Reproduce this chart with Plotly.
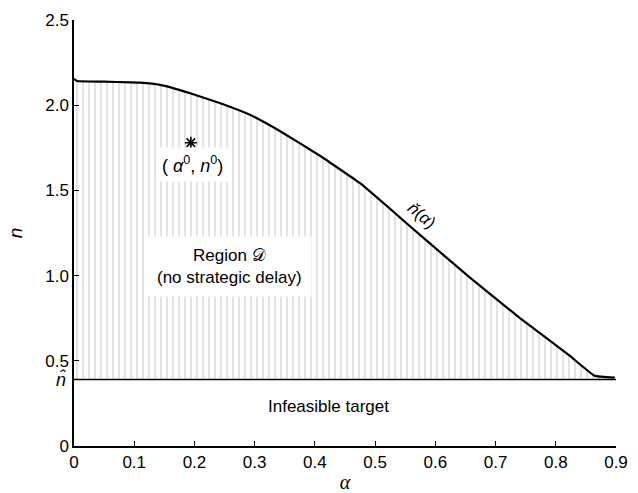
import plotly.graph_objects as go

# Boundary curve n-check(alpha)
alpha = [0.0, 0.005, 0.05, 0.094, 0.110, 0.143, 0.193, 0.243, 0.293, 0.343, 0.409,
         0.475, 0.540, 0.574, 0.657, 0.740, 0.823, 0.864, 0.898]
n_check = [2.155, 2.142, 2.138, 2.134, 2.132, 2.119, 2.070, 2.011, 1.942, 1.846, 1.702,
           1.542, 1.345, 1.240, 0.990, 0.752, 0.530, 0.413, 0.401]
n_hat = 0.39
x_range = [0.0, 0.9]
star_point = (0.194, 1.78)

x_ticks = [0, 0.1, 0.2, 0.3, 0.4, 0.5, 0.6, 0.7, 0.8, 0.9]
x_labels = ["0", "0.1", "0.2", "0.3", "0.4", "0.5", "0.6", "0.7", "0.8", "0.9"]
y_ticks = [0, 0.5, 1.0, 1.5, 2.0, 2.5]
y_labels = ["0", "0.5", "1.0", "1.5", "2.0", "2.5"]

FONT = "Liberation Sans, Arial, sans-serif"

fig = go.Figure()

# dotted region between n_hat and the curve
poly_x = alpha + [x_range[1], x_range[0]]
poly_y = n_check + [n_hat, n_hat]
fig.add_trace(go.Scatter(
    x=poly_x, y=poly_y, fill="toself", mode="none",
    fillcolor="rgba(255,255,255,0)",
    fillpattern=dict(shape="|", size=6, solidity=0.14, fgcolor="#7a7a7a", bgcolor="white"),
    hoverinfo="skip", showlegend=False))

# n_hat line
fig.add_trace(go.Scatter(x=x_range, y=[n_hat, n_hat], mode="lines",
                         line=dict(color="black", width=1.6), showlegend=False))
# curve
fig.add_trace(go.Scatter(x=alpha, y=n_check, mode="lines",
                         line=dict(color="black", width=2.2, shape="spline", smoothing=0.3),
                         showlegend=False))
# star
fig.add_trace(go.Scatter(x=[star_point[0]], y=[star_point[1]], mode="markers",
                         marker=dict(symbol="asterisk-open", size=10, color="black",
                                     line=dict(color="black", width=1.6)),
                         showlegend=False))

ann_font = dict(family=FONT, size=17, color="black")
fig.add_annotation(x=0.196, y=1.65, text="( <i>α</i><sup>0</sup>, <i>n</i><sup>0</sup>)",
                   showarrow=False, font=dict(family=FONT, size=18, color="black"),
                   bgcolor="white", borderpad=5)
fig.add_annotation(x=0.259, y=1.055, text="Region 𝒟<br>(no strategic delay)",
                   showarrow=False, font=ann_font, bgcolor="white", borderpad=9)
fig.add_annotation(x=0.422, y=0.23, text="Infeasible target", showarrow=False, font=ann_font)
fig.add_annotation(x=0.577, y=1.35, text="<i>ň</i>(<i>α</i>)", textangle=40,
                   showarrow=False, font=dict(family=FONT, size=17, color="black"))
# n-hat label on y axis
fig.add_annotation(x=0, y=n_hat, xref="x", yref="y", text="<i>n̂</i>", showarrow=False,
                   xanchor="right", xshift=-6, font=dict(family=FONT, size=18, color="black"))

fig.update_xaxes(range=x_range, tickvals=x_ticks, ticktext=x_labels,
                 showline=True, linecolor="black", linewidth=1.5,
                 ticks="inside", ticklen=5, tickcolor="black", tickwidth=1.2,
                 showgrid=False, zeroline=False, automargin=False,
                 tickfont=dict(family=FONT, size=17, color="black"),
                 title=dict(text="<i>α</i>", font=dict(family="Liberation Serif, serif", size=20, color="black"),
                            standoff=12))
fig.update_yaxes(range=[0, 2.5], tickvals=y_ticks, ticktext=y_labels,
                 showline=True, linecolor="black", linewidth=1.5,
                 ticks="inside", ticklen=5, tickcolor="black", tickwidth=1.2,
                 showgrid=False, zeroline=False, automargin=False,
                 tickfont=dict(family=FONT, size=17, color="black"),
                 title=dict(text="<i>n</i>", font=dict(family=FONT, size=19, color="black"),
                            standoff=18))

fig.update_layout(width=638, height=493, margin=dict(l=74, r=22, t=20, b=47),
                  plot_bgcolor="white", paper_bgcolor="white", showlegend=False)

fig.write_html("out.html", config={"displayModeBar": False})

# remove default page margin so the figure fills the window exactly
with open("out.html", "r", encoding="utf-8") as f:
    html = f.read()
html = html.replace("<head>", "<head><style>html,body{margin:0;padding:0;overflow:hidden;}</style>", 1)
with open("out.html", "w", encoding="utf-8") as f:
    f.write(html)
